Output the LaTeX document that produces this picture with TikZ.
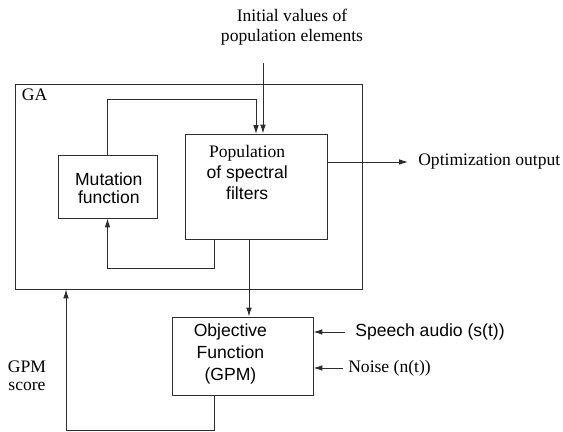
\documentclass[tikz,border=0pt]{standalone}
\usepackage{xcolor}
\usepackage{fontspec}
\setmainfont{Liberation Serif}
\setsansfont{Liberation Sans}
\usepackage{tikz}
\usetikzlibrary{positioning,arrows.meta,calc}
\definecolor{trazo}{RGB}{45,45,45}

\begin{document}
\begin{tikzpicture}[
  caja/.style={draw=trazo, line width=0.7pt, inner sep=0pt},
  linea/.style={draw=trazo, line width=0.7pt},
  flecha/.style={draw=trazo, line width=0.7pt,
    -{Latex[length=2.2mm,width=1.4mm]}},
  serif/.style={font=\fontsize{12.5}{#1}\selectfont\rmfamily,
    inner sep=0pt, align=center},
  sans/.style={font=\fontsize{12.5}{#1}\selectfont\sffamily,
    inner sep=0pt, align=center},
]
  \useasboundingbox (0,0) rectangle (14.075,10.8);
  % ---- Bloque GA ----
  \node[caja, minimum width=8.675cm, minimum height=5.125cm] (ga)
    at (4.7125,6.1375) {};
  \node[serif=14.2pt, anchor=north west] (galab)
    at ([xshift=0.18cm,yshift=-0.12cm]ga.north west) {GA};
  \node[caja, minimum width=2.475cm, minimum height=1.575cm] (mut)
    at (2.6875,6.1375) {};
  \node[sans=12.6pt] (muttxt) at (2.72,6.1) {Mutation\\function};
  \node[caja, minimum width=3.55cm, minimum height=2.625cm] (pop)
    at (6.4,6.1375) {};
  \node[sans=15pt, anchor=north] (poptxt)
    at ([xshift=-0.22cm,yshift=-0.28cm]pop.north)
    {{\rmfamily Population}\\of spectral\\filters};
  % ---- Funcion objetivo ----
  \node[caja, minimum width=3.525cm, minimum height=1.95cm] (obj)
    at (6.0625,1.9) {};
  \node[sans=15.5pt] (objtxt) at (5.76,1.95) {Objective\\Function\\(GPM)};
  % ---- Textos externos ----
  \node[serif=14.2pt] (ini) at (7.3,10.125)
    {Initial values of\\population elements};
  \coordinate (inicio) at (6.575,9.225);
  \coordinate (salida) at (10.2,6.75);
  \node[serif=14.2pt, anchor=west] (out) at (10.45,6.75)
    {Optimization output};
  \coordinate (voz) at (8.625,2.5);
  \node[sans=14.2pt, anchor=west] (speech) at (8.875,2.5)
    {Speech audio (s(t))};
  \coordinate (ruido) at (8.575,1.6);
  \node[serif=14.2pt, anchor=west] (noise) at (8.7,1.6) {Noise (n(t))};
  \node[serif=12.6pt] (score) at (0.675,1.41) {GPM\\score};
  % ---- Conexiones ----
  \draw[flecha] (mut.north) |- (2.6875,8.325) -| (5.35,7.45 -| pop.north);
  \draw[flecha] (5.35,0 |- pop.south) |- (2.6875,4.1) -- (mut.south);
  \draw[flecha] (inicio) -- (inicio |- pop.north);
  \draw[flecha] (pop.east |- salida) -- (salida);
  \draw[flecha] (6.225,0 |- pop.south) -- (6.225,0 |- obj.north);
  \draw[flecha] (voz) -- (obj.east |- voz);
  \draw[flecha] (ruido) -- (obj.east |- ruido);
  \draw[flecha] (5.35,0 |- obj.south) |- (1.65,0.05) -- (1.65,0 |- ga.south);
\end{tikzpicture}
\end{document}
